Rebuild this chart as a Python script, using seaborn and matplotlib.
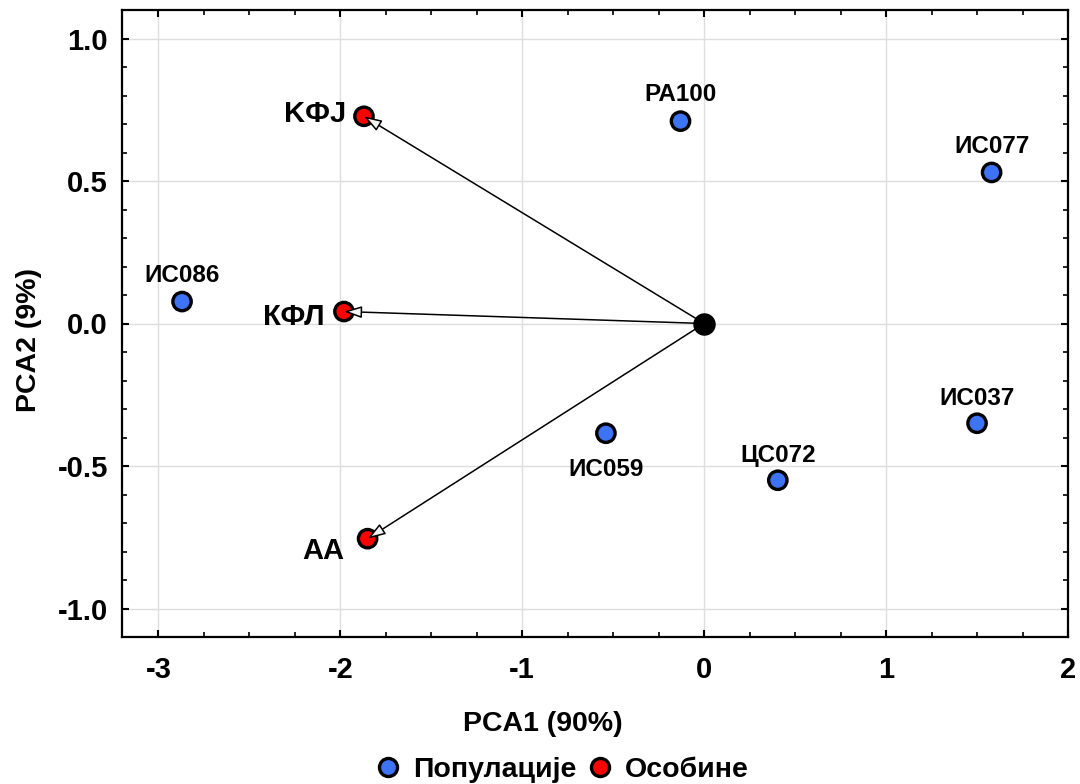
import matplotlib
matplotlib.use("Agg")
import matplotlib.pyplot as plt
import seaborn as sns
import pandas as pd
from matplotlib.lines import Line2D
from matplotlib.ticker import MultipleLocator

# ---- data ----
pop_names = ["PA100", "ИС077", "ИС086", "ИС037", "ИС059", "ЦС072"]
pop_x = [-0.13, 1.58, -2.87, 1.50, -0.54, 0.405]
pop_y = [0.71, 0.53, 0.077, -0.35, -0.385, -0.55]

trait_names = ["KФJ", "КФЛ", "AA"]
trait_x = [-1.87, -1.98, -1.85]
trait_y = [0.727, 0.042, -0.755]

group_names = ["Популације", "Особине"]
x_label = "PCA1 (90%)"
y_label = "PCA2 (9%)"

# ---- style ----
sns.set_theme(style="white")
plt.rcParams["font.family"] = ["Liberation Sans", "DejaVu Sans"]
plt.rcParams["font.weight"] = "bold"
plt.rcParams["text.color"] = "black"
plt.rcParams["axes.labelcolor"] = "black"
plt.rcParams["xtick.color"] = "black"
plt.rcParams["ytick.color"] = "black"

blue = "#3d73f5"
red = "#ff0000"

df = pd.DataFrame({
    "name": pop_names + trait_names,
    "x": pop_x + trait_x,
    "y": pop_y + trait_y,
    "group": [group_names[0]] * len(pop_names) + [group_names[1]] * len(trait_names),
})

fig = plt.figure(figsize=(10.8, 7.84), dpi=100)
ax = fig.add_axes([122 / 1080, 1 - 637 / 784, (1068 - 122) / 1080, (637 - 10) / 784])

ax.set_xlim(-3.2, 2.0)
ax.set_ylim(-1.1, 1.1)
ax.xaxis.set_major_locator(MultipleLocator(1))
ax.xaxis.set_minor_locator(MultipleLocator(0.25))
ax.yaxis.set_major_locator(MultipleLocator(0.5))
ax.yaxis.set_minor_locator(MultipleLocator(0.1))
ax.grid(True, which="major", color="#dedede", lw=1.0, zorder=0)
ax.set_axisbelow(True)

# arrows from origin to traits
for tx, ty in zip(trait_x, trait_y):
    ax.annotate("", xy=(tx, ty), xytext=(0, 0),
                arrowprops=dict(arrowstyle="-|>,head_length=0.9,head_width=0.3",
                                fc="#f4f4f4", ec="black", lw=1.1,
                                shrinkA=0, shrinkB=0),
                zorder=5)

sns.scatterplot(data=df, x="x", y="y", hue="group",
                palette={group_names[0]: blue, group_names[1]: red},
                s=175, edgecolor="black", linewidth=2.4, legend=False,
                ax=ax, zorder=3)

ax.scatter([0], [0], s=230, color="black", zorder=6)

# labels
pop_offsets = {
    "PA100": (0, 19), "ИС077": (0, 19), "ИС086": (0, 19),
    "ИС037": (0, 18), "ИС059": (0, -26), "ЦС072": (0, 18),
}
for n, x, y in zip(pop_names, pop_x, pop_y):
    ax.annotate(n, (x, y), xytext=pop_offsets[n], textcoords="offset points",
                ha="center", va="center", fontsize=17.5, fontweight="bold",
                color="black", zorder=7)

trait_offsets = {"KФJ": (-13, 2), "КФЛ": (-14, -4), "AA": (-17, -9)}
for n, x, y in zip(trait_names, trait_x, trait_y):
    ax.annotate(n, (x, y), xytext=trait_offsets[n], textcoords="offset points",
                ha="right", va="center", fontsize=21, fontweight="bold",
                color="black", zorder=7)

# axes styling
for sp in ax.spines.values():
    sp.set_visible(True)
    sp.set_color("black")
    sp.set_linewidth(1.6)
ax.tick_params(which="both", direction="in", top=True, right=True,
               bottom=True, left=True, color="black")
ax.tick_params(which="major", length=5, width=1.5, labelsize=21, pad=14)
ax.tick_params(which="minor", length=3.5, width=1.2)
ax.tick_params(axis="y", which="major", pad=10)
ax.set_xticks(ax.get_xticks())
ax.set_xticklabels([f"{v:g}" for v in ax.get_xticks()])
ax.set_yticks(ax.get_yticks())
ax.set_yticklabels([f"{v:.1f}" for v in ax.get_yticks()])
ax.set_xlim(-3.2, 2.0)
ax.set_ylim(-1.1, 1.1)
for lab in ax.get_xticklabels() + ax.get_yticklabels():
    lab.set_fontweight("bold")

ax.set_xlabel(x_label, fontsize=20.5, fontweight="bold")
ax.set_ylabel(y_label, fontsize=20.5, fontweight="bold")
ax.xaxis.set_label_coords(0.445, -0.118)
ax.yaxis.set_label_coords(-0.085, 0.474)

handles = [
    Line2D([], [], marker="o", ls="", markersize=13, markerfacecolor=blue,
           markeredgecolor="black", markeredgewidth=2.4, label=group_names[0]),
    Line2D([], [], marker="o", ls="", markersize=13, markerfacecolor=red,
           markeredgecolor="black", markeredgewidth=2.4, label=group_names[1]),
]
leg = ax.legend(handles=handles, loc="center", bbox_to_anchor=(0.463, -0.212),
                ncol=2, frameon=False, fontsize=20.5, handletextpad=0.3,
                columnspacing=0.2, handlelength=1.2)
for t in leg.get_texts():
    t.set_fontweight("bold")
    t.set_color("black")

fig.savefig("out.png", dpi=100)
